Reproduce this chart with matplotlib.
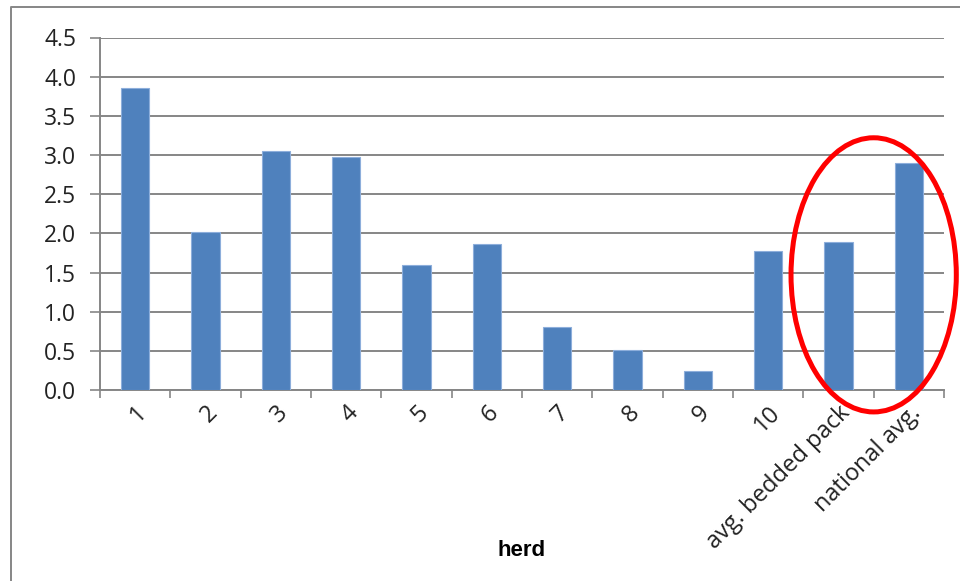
import numpy as np
import matplotlib
matplotlib.use('Agg')
import matplotlib.pyplot as plt
from matplotlib.patches import Ellipse
from matplotlib.lines import Line2D

herds = ['1', '2', '3', '4', '5', '6', '7', '8', '9', '10',
         'avg. bedded pack', 'national avg.']
values = [3.86, 2.02, 3.05, 2.98, 1.59, 1.86, 0.80, 0.51, 0.24, 1.77, 1.89, 2.90]
yticks = [0.0, 0.5, 1.0, 1.5, 2.0, 2.5, 3.0, 3.5, 4.0, 4.5]

grey = '#868686'
plt.rcParams['font.family'] = ['Open Sans', 'DejaVu Sans']

fig = plt.figure(figsize=(9.6, 5.81), dpi=100)
ax = fig.add_axes([100 / 960, 1 - 390 / 581, 844 / 960, 352.5 / 581])

x = np.arange(len(herds))
ax.bar(x, values, width=0.4, color='#4F81BD', edgecolor='#8DAEDB',
       linewidth=0.8, zorder=3)

ax.set_xlim(-0.5, len(herds) - 0.5)
ax.set_ylim(0, 4.5)
ax.set_yticks(yticks)
ax.set_yticklabels(['{:.1f}'.format(v) for v in yticks], fontsize=16.5,
                   color='#222222')
ax.yaxis.grid(True, color=grey, linewidth=1.4, zorder=0)
ax.set_axisbelow(True)

# category labels between boundary ticks
ax.set_xticks(x)
ax.set_xticklabels(herds, rotation=45, ha='right', rotation_mode='anchor',
                   fontsize=17, color='#222222')
ax.tick_params(axis='x', length=0, pad=8)
ax.set_xticks(np.arange(-0.5, len(herds)), minor=True)
ax.tick_params(axis='x', which='minor', length=6, color=grey, width=1.2)
ax.tick_params(axis='y', length=7, color=grey, width=1.2, pad=10)

for side in ['top', 'right']:
    ax.spines[side].set_visible(False)
for side in ['left', 'bottom']:
    ax.spines[side].set_color(grey)
    ax.spines[side].set_linewidth(1.4)

ax.set_xlabel('herd', fontsize=16, fontweight='bold',
              family=['Liberation Sans Narrow', 'Liberation Sans'])
ax.xaxis.set_label_coords(0.5, -0.425)

# red ellipse round the last two bars
ell = Ellipse((10.5, 1.47), 2.35, 3.5, fill=False, edgecolor='red',
              linewidth=3.6, clip_on=False, zorder=5)
ax.add_patch(ell)

# chart area border (left and top edges visible)
fig.add_artist(Line2D([10.5 / 960, 10.5 / 960, 1.0], [0.0, 1 - 7 / 581, 1 - 7 / 581],
                      transform=fig.transFigure, color=grey, linewidth=1.4))

plt.savefig('out.png', dpi=100)
